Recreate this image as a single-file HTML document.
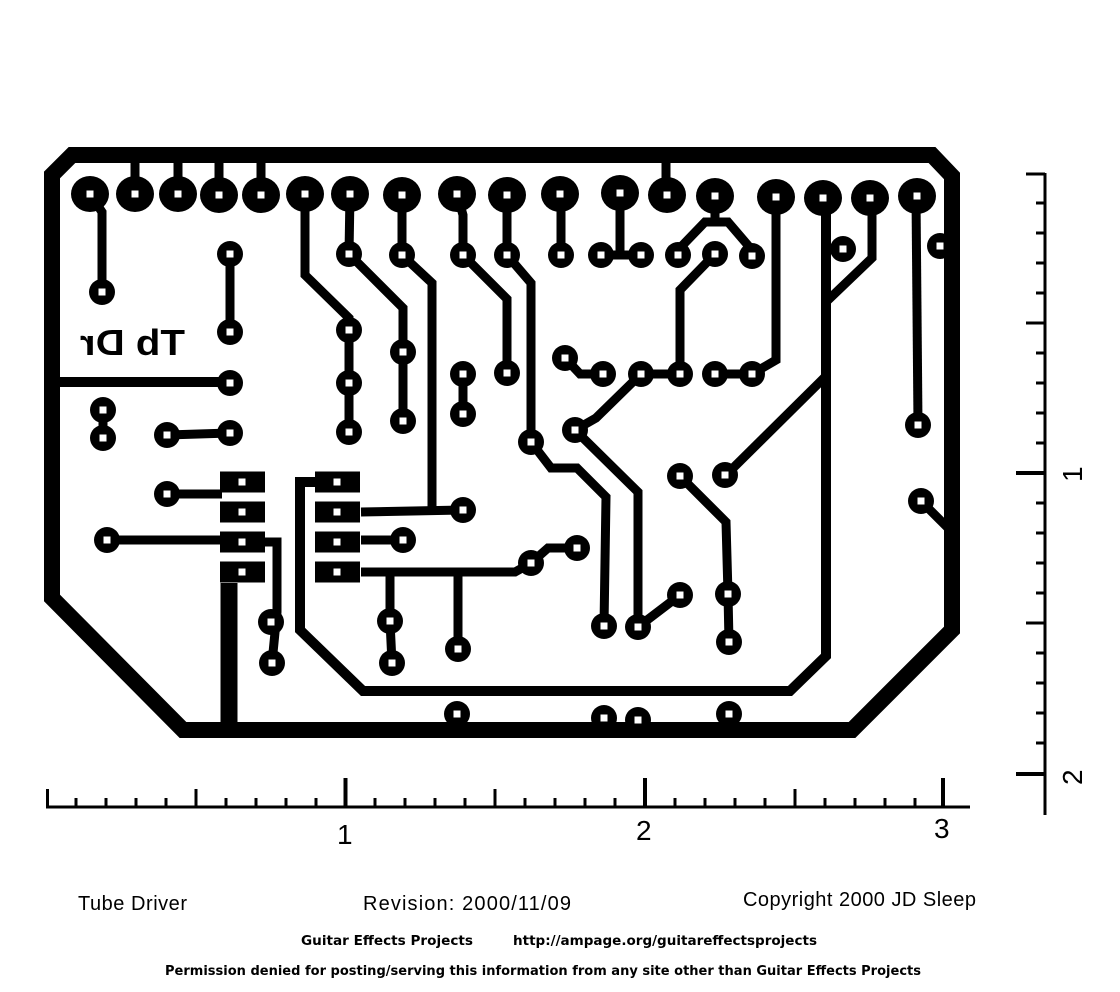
<!DOCTYPE html>
<html><head><meta charset="utf-8"><style>
html,body{margin:0;padding:0;background:#fff;}
svg{display:block;}
</style></head><body>
<svg width="1120" height="992" viewBox="0 0 1120 992" xmlns="http://www.w3.org/2000/svg">
<defs>
<g id="p"><circle r="13" fill="#000"/><rect x="-3.5" y="-3.5" width="7" height="7" fill="#fff"/></g>
<g id="b"><ellipse rx="19" ry="18" fill="#000"/><rect x="-3.5" y="-3.5" width="7" height="7" fill="#fff"/></g>
<g id="r"><rect x="-22" y="-10.5" width="45" height="21" fill="#000"/><rect x="-3.5" y="-3.5" width="7" height="7" fill="#fff"/></g>
</defs>
<rect width="1120" height="992" fill="#fff"/>
<polygon points="72,155 932,155 952,176 952,630 852,730 183,730 52,598 52,175" fill="none" stroke="#000" stroke-width="16" stroke-linejoin="miter"/>
<line x1="229" y1="583" x2="229" y2="730" stroke="#000" stroke-width="17"/>
<g stroke="#000" stroke-width="9" fill="none" stroke-linejoin="miter">
<line x1="135" y1="155" x2="135" y2="194"/><line x1="178" y1="155" x2="178" y2="194"/>
<line x1="219" y1="155" x2="219" y2="194"/><line x1="261" y1="155" x2="261" y2="194"/>
<line x1="666" y1="155" x2="666" y2="194"/>
<polyline points="90,194 102,212 102,292"/>
<line x1="230" y1="254" x2="230" y2="332"/>
<line x1="52" y1="382" x2="230" y2="382" stroke-width="10"/>
<line x1="103" y1="410" x2="103" y2="438"/>
<line x1="167" y1="435" x2="230" y2="433"/>
<line x1="167" y1="494" x2="222" y2="494"/>
<line x1="107" y1="540" x2="222" y2="540"/>
<polyline points="262,542 277,542 277,612 272,663"/>
<polyline points="318,482 300,482 300,630 363,691 790,691 826,656 826,198" stroke-width="10"/>
<polyline points="361,512 463,510"/>
<polyline points="402,255 432,283 432,512"/>
<line x1="361" y1="540" x2="403" y2="540"/>
<polyline points="361,572 515,572 531,563 548,548 577,548"/>
<polyline points="390,572 390,621 392,663"/>
<line x1="458" y1="572" x2="458" y2="649"/>
<polyline points="305,194 305,275 349,318 349,432"/>
<line x1="350" y1="194" x2="349" y2="254"/>
<polyline points="349,254 403,308 403,421"/>
<line x1="402" y1="194" x2="402" y2="255"/>
<polyline points="457,194 463,215 463,255"/>
<polyline points="463,255 507,299 507,373"/>
<line x1="463" y1="374" x2="463" y2="414"/>
<line x1="507" y1="194" x2="507" y2="255"/>
<polyline points="507,255 531,283 531,442 551,468 577,468 606,497 604,626"/>
<line x1="561" y1="194" x2="561" y2="255"/>
<polyline points="620,194 620,255"/>
<line x1="601" y1="255" x2="641" y2="255"/>
<polyline points="715,196 715,222 705,222 678,250"/>
<polyline points="715,222 728,222 752,250"/>
<polyline points="715,254 680,290 680,374"/>
<polyline points="776,198 776,360 752,374"/>
<line x1="715" y1="374" x2="752" y2="374"/>
<polyline points="565,358 580,374 603,374"/>
<line x1="641" y1="374" x2="680" y2="374"/>
<polyline points="641,374 596,418 575,430"/>
<polyline points="575,430 638,492 638,627 680,595"/>
<polyline points="826,376 725,476"/>
<polyline points="872,198 872,258 826,302"/>
<line x1="916" y1="196" x2="918" y2="425"/>
<polyline points="921,501 948,528"/>
<polyline points="680,476 726,522 728,594 729,642"/>
</g>
<g>
<use href="#b" x="90" y="194"/><use href="#b" x="135" y="194"/><use href="#b" x="178" y="194"/>
<use href="#b" x="219" y="195"/><use href="#b" x="261" y="195"/><use href="#b" x="305" y="194"/>
<use href="#b" x="350" y="194"/><use href="#b" x="402" y="195"/><use href="#b" x="457" y="194"/>
<use href="#b" x="507" y="195"/><use href="#b" x="560" y="194"/><use href="#b" x="620" y="193"/>
<use href="#b" x="667" y="195"/><use href="#b" x="715" y="196"/><use href="#b" x="776" y="197"/>
<use href="#b" x="823" y="198"/><use href="#b" x="870" y="198"/><use href="#b" x="917" y="196"/>
</g>
<g>
<use href="#p" x="102" y="292"/><use href="#p" x="230" y="254"/><use href="#p" x="230" y="332"/>
<use href="#p" x="230" y="383"/><use href="#p" x="103" y="410"/><use href="#p" x="103" y="438"/>
<use href="#p" x="167" y="435"/><use href="#p" x="230" y="433"/><use href="#p" x="167" y="494"/>
<use href="#p" x="107" y="540"/>
<use href="#p" x="349" y="254"/><use href="#p" x="402" y="255"/><use href="#p" x="463" y="255"/>
<use href="#p" x="507" y="255"/><use href="#p" x="561" y="255"/><use href="#p" x="601" y="255"/>
<use href="#p" x="641" y="255"/><use href="#p" x="678" y="255"/><use href="#p" x="715" y="254"/>
<use href="#p" x="752" y="256"/><use href="#p" x="843" y="249"/><use href="#p" x="940" y="246"/>
<use href="#p" x="349" y="330"/><use href="#p" x="349" y="383"/><use href="#p" x="349" y="432"/>
<use href="#p" x="403" y="352"/><use href="#p" x="403" y="421"/><use href="#p" x="463" y="374"/>
<use href="#p" x="463" y="414"/><use href="#p" x="507" y="373"/><use href="#p" x="565" y="358"/>
<use href="#p" x="603" y="374"/><use href="#p" x="641" y="374"/><use href="#p" x="680" y="374"/>
<use href="#p" x="715" y="374"/><use href="#p" x="752" y="374"/><use href="#p" x="531" y="442"/>
<use href="#p" x="575" y="430"/><use href="#p" x="918" y="425"/><use href="#p" x="680" y="476"/>
<use href="#p" x="725" y="475"/><use href="#p" x="921" y="501"/><use href="#p" x="463" y="510"/>
<use href="#p" x="403" y="540"/><use href="#p" x="577" y="548"/><use href="#p" x="531" y="563"/>
<use href="#p" x="680" y="595"/><use href="#p" x="728" y="594"/><use href="#p" x="604" y="626"/>
<use href="#p" x="638" y="627"/><use href="#p" x="729" y="642"/><use href="#p" x="271" y="622"/>
<use href="#p" x="272" y="663"/><use href="#p" x="390" y="621"/><use href="#p" x="392" y="663"/>
<use href="#p" x="458" y="649"/><use href="#p" x="457" y="714"/><use href="#p" x="604" y="718"/>
<use href="#p" x="638" y="720"/><use href="#p" x="729" y="714"/>
</g>
<g>
<use href="#r" x="242" y="482"/><use href="#r" x="242" y="512"/><use href="#r" x="242" y="542"/><use href="#r" x="242" y="572"/>
<use href="#r" x="337" y="482"/><use href="#r" x="337" y="512"/><use href="#r" x="337" y="542"/><use href="#r" x="337" y="572"/>
</g>
<text transform="translate(265,0) scale(-1,1)" x="80" y="355" font-family="Liberation Sans, sans-serif" font-weight="bold" font-size="36" textLength="105" lengthAdjust="spacingAndGlyphs">Tb Dr</text>
<g stroke="#000" stroke-width="3" fill="none">
<line x1="46" y1="807" x2="970" y2="807"/>
<path d="M47.5 807V789 M76 807V798 M106 807V798 M136 807V798 M166 807V798 M196 807V789 M226 807V798 M256 807V798 M286 807V798 M316 807V798 M375 807V798 M405 807V798 M435 807V798 M465 807V798 M495 807V789 M525 807V798 M555 807V798 M585 807V798 M615 807V798 M675 807V798 M705 807V798 M735 807V798 M765 807V798 M795 807V789 M825 807V798 M855 807V798 M885 807V798 M915 807V798"/>
<path d="M345.5 807V778 M645 807V778 M943 807V778" stroke-width="4"/>
</g>
<g font-family="Liberation Sans, sans-serif" font-size="28" fill="#000">
<text x="337" y="844">1</text><text x="636" y="840">2</text><text x="934" y="838">3</text>
</g>
<g stroke="#000" stroke-width="3" fill="none">
<line x1="1045" y1="173" x2="1045" y2="815"/>
<path d="M1026 174H1045 M1036 203H1045 M1036 233H1045 M1036 263H1045 M1036 293H1045 M1026 323H1045 M1036 353H1045 M1036 383H1045 M1036 413H1045 M1036 443H1045 M1036 503H1045 M1036 533H1045 M1036 563H1045 M1036 593H1045 M1026 623H1045 M1036 653H1045 M1036 683H1045 M1036 713H1045 M1036 743H1045"/>
<path d="M1016 473H1045 M1016 774H1045" stroke-width="4"/>
</g>
<g font-family="Liberation Sans, sans-serif" font-size="28" fill="#000">
<text transform="translate(1082,473) rotate(-90)" x="-9" y="0">1</text>
<text transform="translate(1082,776) rotate(-90)" x="-9" y="0">2</text>
</g>
<g font-family="Liberation Sans, sans-serif" font-size="20" fill="#000" xml:space="preserve" style="white-space:pre">
<text x="78" y="910" textLength="109">Tube Driver</text>
<text x="363" y="910" textLength="208">Revision:  2000/11/09</text>
<text x="743" y="906" textLength="233">Copyright 2000 JD Sleep</text>
</g>
<g font-family="DejaVu Sans, sans-serif" font-size="13" font-weight="bold" fill="#000">
<text x="301" y="945" textLength="172" lengthAdjust="spacingAndGlyphs">Guitar Effects Projects</text>
<text x="513" y="945" textLength="304" lengthAdjust="spacingAndGlyphs">http://ampage.org/guitareffectsprojects</text>
<text x="165" y="975" textLength="756" lengthAdjust="spacingAndGlyphs">Permission denied for posting/serving this information from any site other than Guitar Effects Projects</text>
</g>
</svg>
</body></html>
